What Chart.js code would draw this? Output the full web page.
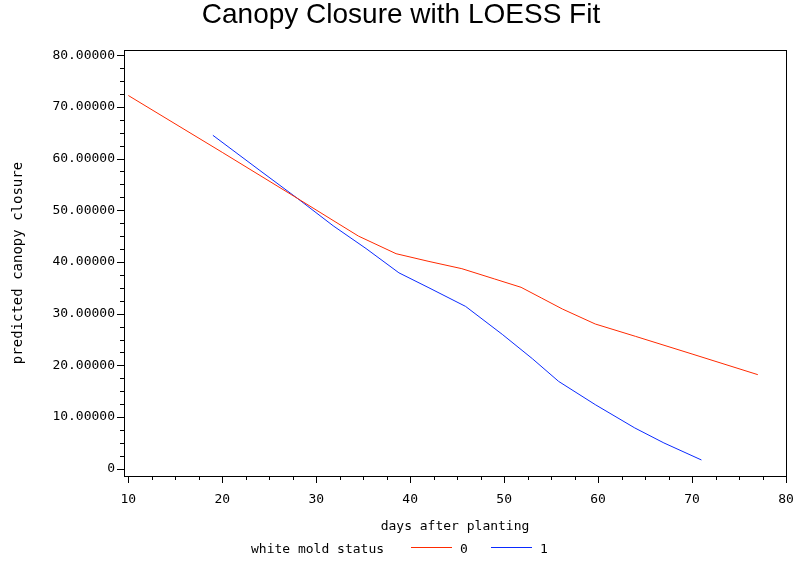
<!DOCTYPE html>
<html>
<head>
<meta charset="utf-8">
<title>Canopy Closure with LOESS Fit</title>
<script src="https://cdn.jsdelivr.net/npm/chart.js@4.4.1/dist/chart.umd.min.js"></script>
<style>
  body { margin: 0; background: #fff; }
  #wrap { width: 794px; height: 562px; }
</style>
</head>
<body>
<div id="wrap"><canvas id="Chart" width="794" height="562"></canvas></div>
<script>
// white mold status 0 (red) and 1 (blue)
const mold0Days = [10, 20, 28, 32, 34.5, 38.5, 42, 45.5, 49, 51.8, 54, 56.2, 59.7, 64, 70, 77];
const mold0Closure = [72.2, 61.2, 52.3, 47.8, 45.0, 41.6, 40.1, 38.7, 36.7, 35.1, 33.0, 30.9, 28.0, 25.6, 22.2, 18.2];

const mold1Days = [19, 24, 28, 31.8, 35.3, 38.8, 42, 45.9, 49.8, 53, 55.8, 59.7, 63.9, 67, 71];
const mold1Closure = [64.5, 57.7, 52.3, 47.0, 42.6, 37.9, 35.0, 31.4, 26.0, 21.3, 16.9, 12.4, 7.9, 5.0, 1.7];

const statusLabels = ["0", "1"];
const statusColors = ["#ff2a00", "#0a2aff"];

const ctx = document.querySelector("#Chart").getContext("2d");
const mono = "'DejaVu Sans Mono', monospace";

const toPoints = (xs, ys) => xs.map((x, i) => ({ x: x, y: ys[i] }));

// frame, major/minor tick marks and the inline legend
const sasDecor = {
  id: "sasDecor",
  afterDraw(chart) {
    const c = chart.ctx;
    const area = chart.chartArea;
    const xs = chart.scales.x;
    const ys = chart.scales.y;
    c.save();
    c.strokeStyle = "#000";
    c.lineWidth = 1;
    c.strokeRect(Math.round(area.left) + 0.5, Math.round(area.top) + 0.5,
      Math.round(area.right - area.left), Math.round(area.bottom - area.top));

    c.beginPath();
    xs.ticks.forEach(t => {
      const px = Math.round(xs.getPixelForValue(t.value)) + 0.5;
      const len = t.value % 10 === 0 ? 7 : 4;
      c.moveTo(px, area.bottom);
      c.lineTo(px, area.bottom + len);
    });
    ys.ticks.forEach(t => {
      const py = Math.round(ys.getPixelForValue(t.value)) + 0.5;
      const len = t.value % 10 === 0 ? 7 : 4;
      c.moveTo(area.left, py);
      c.lineTo(area.left - len, py);
    });
    c.stroke();

    // legend: "white mold status  —— 0  —— 1"
    const ly = 550;
    c.font = "13px " + mono;
    c.fillStyle = "#000";
    c.textBaseline = "middle";
    c.textAlign = "left";
    let lx = 251;
    c.fillText("white mold status", lx, ly);
    lx = 411;
    chart.data.datasets.forEach(ds => {
      c.strokeStyle = ds.borderColor;
      c.beginPath();
      c.moveTo(lx, ly - 2.5);
      c.lineTo(lx + 41, ly - 2.5);
      c.stroke();
      c.fillText(ds.label, lx + 49, ly);
      lx += 80;
    });
    c.restore();
  }
};

const chart = new Chart(ctx, {
  type: "line",
  data: {
    datasets: [
      {
        label: statusLabels[0],
        data: toPoints(mold0Days, mold0Closure),
        borderColor: statusColors[0],
        borderWidth: 1,
        pointRadius: 0,
        fill: false,
        tension: 0
      },
      {
        label: statusLabels[1],
        data: toPoints(mold1Days, mold1Closure),
        borderColor: statusColors[1],
        borderWidth: 1,
        pointRadius: 0,
        fill: false,
        tension: 0
      }
    ]
  },
  options: {
    responsive: false,
    animation: false,
    devicePixelRatio: 1,
    layout: { padding: { left: 8, right: 0, top: 0, bottom: 0 } },
    plugins: {
      legend: { display: false },
      tooltip: { enabled: false },
      title: {
        display: true,
        text: "Canopy Closure with LOESS Fit",
        color: "#000",
        font: { family: "'Liberation Sans', Arial, sans-serif", size: 28, weight: "normal", lineHeight: 1 },
        padding: { top: 1, bottom: 21 }
      }
    },
    scales: {
      x: {
        type: "linear",
        min: 9.54,
        max: 80,
        grid: { display: false, drawTicks: false },
        border: { display: false },
        ticks: {
          stepSize: 2.5,
          includeBounds: false,
          autoSkip: false,
          maxRotation: 0,
          padding: 16,
          color: "#000",
          font: { family: mono, size: 13 },
          callback: v => (v % 10 === 0 ? String(v) : "")
        },
        title: {
          display: true,
          text: "days after planting",
          color: "#000",
          font: { family: mono, size: 13 },
          padding: { top: 0, bottom: 28 }
        },
        afterFit: scale => {
          scale.height = 86;
          scale.paddingLeft = 0;
          scale.paddingRight = 8;
        }
      },
      y: {
        type: "linear",
        min: -1.4,
        max: 81,
        grid: { display: false, drawTicks: false },
        border: { display: false },
        ticks: {
          stepSize: 2.5,
          includeBounds: false,
          autoSkip: false,
          padding: 9,
          color: "#000",
          font: { family: mono, size: 13 },
          callback: v => (v % 10 === 0 ? (v === 0 ? "0" : v.toFixed(5)) : "")
        },
        title: {
          display: true,
          text: "predicted canopy closure",
          color: "#000",
          font: { family: mono, size: 14 },
          padding: { top: 2, bottom: 0 }
        },
        afterFit: scale => { scale.width = 116; }
      }
    }
  },
  plugins: [sasDecor]
});
</script>
</body>
</html>
